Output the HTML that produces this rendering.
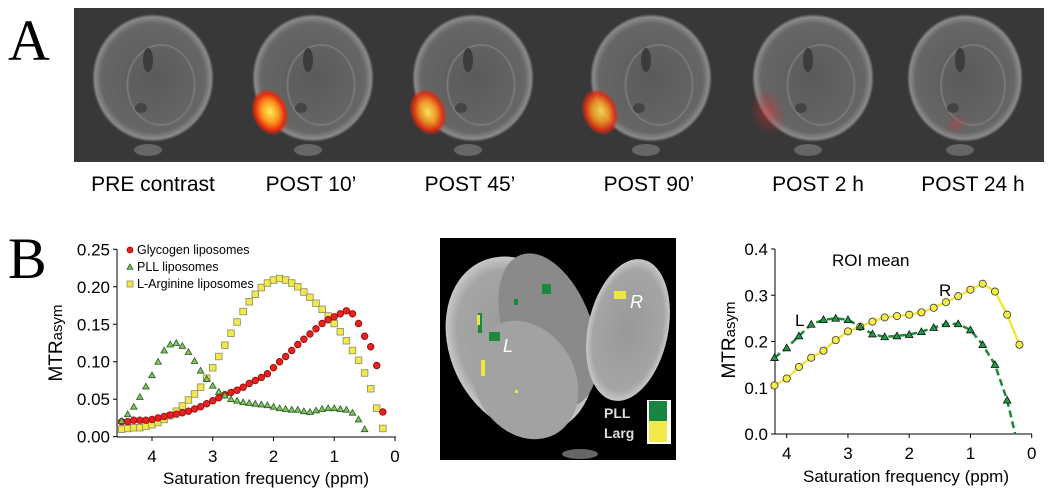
<!DOCTYPE html>
<html><head><meta charset="utf-8"><style>
body{margin:0;background:#fff;width:1050px;height:498px;overflow:hidden}
svg{display:block;font-family:"Liberation Sans",sans-serif}
</style></head><body>
<svg id="fig" width="1050" height="498" viewBox="0 0 1050 498">
<defs>
<radialGradient id="bg1" cx="50%" cy="50%" r="50%"><stop offset="0" stop-color="#5a5a5a"/><stop offset="0.85" stop-color="#666"/><stop offset="0.95" stop-color="#8a8a8a"/><stop offset="1" stop-color="#3a3a3a"/></radialGradient>
<radialGradient id="hot" cx="50%" cy="50%" r="50%"><stop offset="0" stop-color="#ffee55"/><stop offset="0.45" stop-color="#ff9a20"/><stop offset="0.8" stop-color="#e02a10"/><stop offset="1" stop-color="#e02a10" stop-opacity="0"/></radialGradient>
<radialGradient id="warm" cx="50%" cy="50%" r="50%"><stop offset="0" stop-color="#e33"/><stop offset="1" stop-color="#c22" stop-opacity="0"/></radialGradient>
<radialGradient id="tis" cx="50%" cy="50%" r="50%"><stop offset="0" stop-color="#989898"/><stop offset="0.85" stop-color="#a5a5a5"/><stop offset="1" stop-color="#c8c8c8"/></radialGradient>
<clipPath id="midclip"><rect x="440" y="238" width="236" height="222"/></clipPath>
</defs>

<text x="8" y="60" font-family="Liberation Serif,serif" font-size="58">A</text>
<g>
<rect x="74" y="8" width="970" height="154" fill="#383838"/>
<g id="brains"></g>
</g>
<g font-size="21" text-anchor="middle">
<text x="153" y="191">PRE contrast</text>
<text x="311" y="191">POST 10’</text>
<text x="470" y="191">POST 45’</text>
<text x="649" y="191">POST 90’</text>
<text x="818" y="191">POST 2 h</text>
<text x="973" y="191">POST 24 h</text>
</g>

<text x="8" y="278" font-family="Liberation Serif,serif" font-size="58">B</text>

<g id="left"></g>

<g>
<rect x="440" y="238" width="236" height="222" fill="#000"/>
<g clip-path="url(#midclip)">
<ellipse cx="520" cy="345" rx="70" ry="92" transform="rotate(-25 520 345)" fill="url(#tis)"/>
<ellipse cx="548" cy="330" rx="44" ry="80" transform="rotate(-20 548 330)" fill="#8a8a8a"/>
<ellipse cx="525" cy="380" rx="50" ry="62" transform="rotate(-30 525 380)" fill="#a2a2a2"/>
<ellipse cx="628" cy="330" rx="40" ry="72" transform="rotate(12 628 330)" fill="url(#tis)"/>
<ellipse cx="580" cy="454" rx="18" ry="5" fill="#666"/>
</g>
<rect x="542" y="284" width="9" height="10" fill="#1a8a3a"/>
<rect x="489" y="332" width="11" height="9" fill="#1a8a3a"/>
<rect x="478" y="313" width="4" height="20" fill="#1a8a3a"/>
<rect x="514" y="299" width="4" height="6" fill="#1a8a3a"/>
<rect x="614" y="291" width="12" height="8" fill="#f0e640"/>
<rect x="481" y="360" width="4" height="16" fill="#f0e640"/>
<rect x="477" y="315" width="3" height="10" fill="#f0e640"/>
<rect x="515" y="390" width="3" height="3" fill="#f0e640"/>
<text x="630" y="308" fill="#fff" font-size="18" font-style="italic">R</text>
<text x="503" y="352" fill="#fff" font-size="18" font-style="italic">L</text>
<rect x="647" y="400" width="24" height="44" fill="#fff"/>
<rect x="649" y="401" width="18" height="20" fill="#178740"/>
<rect x="649" y="421" width="18" height="21" fill="#f3ea4a"/>
<text x="604" y="418" fill="#ddd" font-size="14" font-weight="bold">PLL</text>
<text x="604" y="438" fill="#ddd" font-size="14" font-weight="bold">Larg</text>
</g>

<g id="right"></g>
</svg>
<script>
const NS="http://www.w3.org/2000/svg";
function mk(tag,attrs,parent,txt){const e=document.createElementNS(NS,tag);for(const k in attrs)e.setAttribute(k,attrs[k]);if(txt!==undefined)e.textContent=txt;parent.appendChild(e);return e;}

// ---- MRI brains (illustrative) ----
const brainCx=[153,313,473,651,813,965];
const blobX=[0,270,428,600,768,952];
const blobStrength=[0.15,1,0.9,0.85,0.5,0.35];
const bg=document.getElementById('brains');
brainCx.forEach((cx,i)=>{
  const g=mk('g',{},bg);
  
  
  const rx=i===5?58:61;
  mk('ellipse',{cx:cx,cy:78,rx:rx,ry:64,fill:'url(#bg1)'},g);
  mk('ellipse',{cx:cx+8,cy:85,rx:rx*0.55,ry:40,fill:'none',stroke:'#777','stroke-width':2},g);
  mk('ellipse',{cx:cx-5,cy:60,rx:5,ry:12,fill:'#3c3c3c'},g);
  mk('ellipse',{cx:cx-12,cy:108,rx:6,ry:5,fill:'#444'},g);
  mk('ellipse',{cx:cx-5,cy:150,rx:14,ry:6,fill:'#666'},g);
  if(i>0){
    const col=i>=4?'url(#warm)':'url(#hot)';
    mk('ellipse',{cx:blobX[i],cy:i===5?125:112,rx:i===5?12:18,ry:i===5?10:24,fill:col,opacity:blobStrength[i],transform:'rotate(-20 '+blobX[i]+' 112)'},g);
  }
});

// ---- Left chart data ----
const leftX=[4.5,4.4,4.3,4.2,4.1,4.0,3.9,3.8,3.7,3.6,3.5,3.4,3.3,3.2,3.1,3.0,2.9,2.8,2.7,2.6,2.5,2.4,2.3,2.2,2.1,2.0,1.9,1.8,1.7,1.6,1.5,1.4,1.3,1.2,1.1,1.0,0.9,0.8,0.7,0.6,0.5,0.4,0.3,0.2];
const glycogen=[0.02,0.02,0.022,0.022,0.022,0.023,0.025,0.027,0.029,0.03,0.032,0.034,0.037,0.04,0.044,0.048,0.052,0.056,0.059,0.062,0.066,0.071,0.075,0.079,0.084,0.092,0.1,0.107,0.115,0.123,0.13,0.137,0.144,0.151,0.156,0.16,0.164,0.168,0.164,0.151,0.134,0.12,0.095,0.033];
const arginine=[0.01,0.011,0.012,0.012,0.014,0.016,0.019,0.023,0.028,0.034,0.041,0.049,0.057,0.066,0.078,0.092,0.107,0.122,0.138,0.153,0.167,0.18,0.19,0.199,0.205,0.209,0.211,0.209,0.205,0.2,0.193,0.186,0.178,0.17,0.161,0.151,0.14,0.128,0.115,0.102,0.085,0.064,0.038,0.011];
const pll=[0.021,0.03,0.04,0.053,0.067,0.082,0.1,0.115,0.123,0.125,0.121,0.113,0.101,0.088,0.077,0.068,0.06,0.055,0.05,0.048,0.046,0.045,0.044,0.043,0.042,0.04,0.038,0.037,0.036,0.036,0.034,0.033,0.035,0.037,0.038,0.038,0.037,0.036,0.032,0.023,0.01];
const leftYTicks=["0.00","0.05","0.10","0.15","0.20","0.25"];
const leftXTicks=["4","3","2","1","0"];

const lxS=v=>395-(v)*60.75;
const lyS=v=>436.7-v*(436.7-249.3)/0.25;
const L=document.getElementById('left');
mk('line',{x1:117,y1:249,x2:117,y2:437,stroke:'#000','stroke-width':1},L);
mk('line',{x1:117,y1:437,x2:396,y2:437,stroke:'#000','stroke-width':1},L);
leftYTicks.forEach(t=>{const y=lyS(+t);
  mk('line',{x1:113,y1:y,x2:117,y2:y,stroke:'#000'},L);
  const tx=mk('text',{x:110,y:y+6,'font-size':17,'text-anchor':'end'},L,t);
  
  });
leftXTicks.forEach(t=>{const x=lxS(+t);
  mk('line',{x1:x,y1:437,x2:x,y2:441,stroke:'#000'},L);
  const tx=mk('text',{x:x,y:462,'font-size':17,'text-anchor':'middle'},L,t);
  
  });
let t=mk('text',{x:266,y:484,'font-size':17,'text-anchor':'middle'},L,'Saturation frequency (ppm)');


t=mk('text',{transform:'translate(62 343) rotate(-90)','font-size':19,'text-anchor':'middle'},L);


mk('tspan',{},t,'MTR');mk('tspan',{'font-size':15},t,'asym');

function square(g,x,y,fill,s){return mk('rect',{x:x-s,y:y-s,width:2*s,height:2*s,fill:fill,stroke:'#8a8a6a','stroke-width':0.8},g);}
function tri(g,x,y,fill,s,stroke){return mk('polygon',{points:`${x},${y-s} ${x-s},${y+s*0.75} ${x+s},${y+s*0.75}`,fill:fill,stroke:stroke||'#2e5a2a','stroke-width':0.8},g);}
function circ(g,x,y,fill,r,stroke){return mk('circle',{cx:x,cy:y,r:r,fill:fill,stroke:stroke,'stroke-width':0.8},g);}

const gA=mk('g',{},L);
arginine.forEach((v,i)=>{const m=square(gA,lxS(leftX[i]),lyS(v),'#f2e84a',3.3);});
const gG=mk('g',{},L);
glycogen.forEach((v,i)=>{const m=circ(gG,lxS(leftX[i]),lyS(v),'#e8201e',3.3,'#8a1010');});
const gP=mk('g',{},L);
pll.forEach((v,i)=>{const m=tri(gP,lxS(leftX[i]),lyS(v),'#7cc35a',3.3);});

const leg=mk('g',{'font-size':12.5},L);
circ(leg,130,250,'#e8201e',3,'#8a1010');mk('text',{x:137,y:254},leg,'Glycogen liposomes');
tri(leg,130,267,'#7cc35a',3);mk('text',{x:137,y:271},leg,'PLL liposomes');
square(leg,130,284,'#f2e84a',3);mk('text',{x:137,y:288},leg,'L-Arginine liposomes');

// ---- Right chart data ----
const rightX=[4.2,4.0,3.8,3.6,3.4,3.2,3.0,2.8,2.6,2.4,2.2,2.0,1.8,1.6,1.4,1.2,1.0,0.8,0.6,0.4,0.2];
const roiR=[0.105,0.12,0.145,0.165,0.18,0.203,0.222,0.232,0.243,0.252,0.255,0.258,0.263,0.273,0.285,0.298,0.312,0.325,0.308,0.258,0.193];
const roiL=[0.165,0.186,0.212,0.237,0.247,0.25,0.247,0.232,0.216,0.21,0.212,0.215,0.221,0.23,0.238,0.238,0.225,0.193,0.15,0.073];
const rightYTicks=["0.0","0.1","0.2","0.3","0.4"];
const rightXTicks=["4","3","2","1","0"];

const rxS=v=>1031.7-v*61.25;
const ryS=v=>434-v*(434-249)/0.4;
const R=document.getElementById('right');
mk('line',{x1:775,y1:249,x2:775,y2:434,stroke:'#000'},R);
mk('line',{x1:775,y1:434,x2:1032,y2:434,stroke:'#000'},R);
rightYTicks.forEach(s=>{const y=ryS(+s);
  mk('line',{x1:771,y1:y,x2:775,y2:y,stroke:'#000'},R);
  const tx=mk('text',{x:768,y:y+6,'font-size':17,'text-anchor':'end'},R,s);
  
  });
rightXTicks.forEach(s=>{const x=rxS(+s);
  mk('line',{x1:x,y1:434,x2:x,y2:438,stroke:'#000'},R);
  const tx=mk('text',{x:x,y:459,'font-size':17,'text-anchor':'middle'},R,s);
  
  });
t=mk('text',{x:906,y:482,'font-size':17,'text-anchor':'middle'},R,'Saturation frequency (ppm)');


t=mk('text',{transform:'translate(735 340) rotate(-90)','font-size':19,'text-anchor':'middle'},R);


mk('tspan',{},t,'MTR');mk('tspan',{'font-size':15},t,'asym');
t=mk('text',{x:832,y:266,'font-size':17},R,'ROI mean');


t=mk('text',{x:795,y:326,'font-size':17},R,'L');


t=mk('text',{x:939,y:296,'font-size':17},R,'R');



let pts=roiR.map((v,i)=>rxS(rightX[i])+','+ryS(v)).join(' ');
let pl=mk('polyline',{points:pts,fill:'none',stroke:'#f0e640','stroke-width':2.5},R);

pts=roiL.map((v,i)=>rxS(rightX[i])+','+ryS(v)).join(' ')+' '+rxS(0.27)+','+ryS(0);
pl=mk('polyline',{points:pts,fill:'none',stroke:'#1a8a3a','stroke-width':2.5,'stroke-dasharray':'7 4'},R);

roiR.forEach((v,i)=>{const m=circ(R,rxS(rightX[i]),ryS(v),'#f5ec4a',3.6,'#333');});
roiL.forEach((v,i)=>{const m=tri(R,rxS(rightX[i]),ryS(v),'#1f9a44',3.8,'#111');});
</script>
</body></html>
